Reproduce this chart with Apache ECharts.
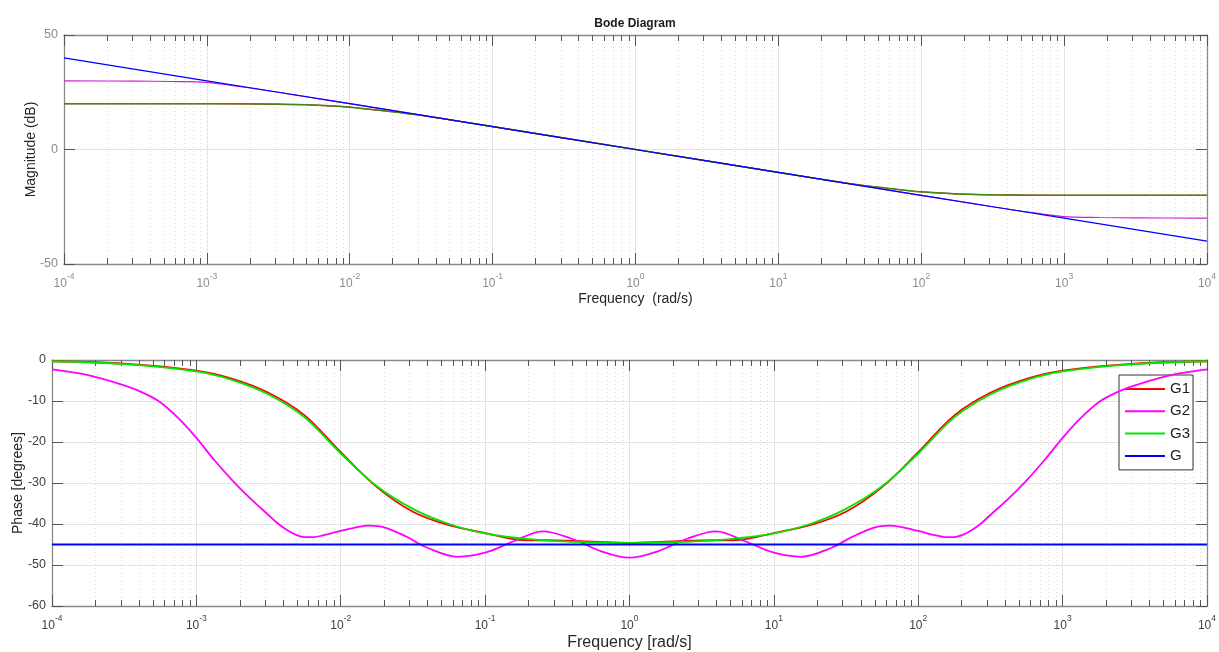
<!DOCTYPE html>
<html>
<head>
<meta charset="utf-8">
<script src="https://cdn.jsdelivr.net/npm/echarts@6/dist/echarts.min.js"></script>
<style>
html,body{margin:0;padding:0;background:#fff;}
#c{width:1219px;height:652px;}
</style>
</head>
<body>
<div id="c"></div>
<script>
// ---------- tick values ----------
const majorTicks = [1e-4, 1e-3, 1e-2, 1e-1, 1, 10, 100, 1000, 10000];
const minorTicks = [
  2e-4,3e-4,4e-4,5e-4,6e-4,7e-4,8e-4,9e-4,
  2e-3,3e-3,4e-3,5e-3,6e-3,7e-3,8e-3,9e-3,
  2e-2,3e-2,4e-2,5e-2,6e-2,7e-2,8e-2,9e-2,
  0.2,0.3,0.4,0.5,0.6,0.7,0.8,0.9,
  2,3,4,5,6,7,8,9,
  20,30,40,50,60,70,80,90,
  200,300,400,500,600,700,800,900,
  2000,3000,4000,5000,6000,7000,8000,9000
];
const seriesNames = ['G1', 'G2', 'G3', 'G'];

// ---------- magnitude data (dB) ----------
const wMagG = [1e-4, 1e-3, 1e-2, 1e-1, 1, 10, 100, 1000, 10000];
const magG = [40, 30, 20, 10, 0, -10, -20, -30, -40];

const wMagG13 = [1e-4, 1e-3, 3.16e-3, 5.62e-3, 1e-2, 1.78e-2, 3.16e-2, 5.62e-2, 0.1, 1, 10, 17.8, 31.6, 56.2, 100, 178, 316, 1000, 10000];
const magG1 = [20, 20, 19.8, 19.4, 18.5, 16.8, 14.9, 12.5, 10, 0, -10, -12.5, -14.9, -16.8, -18.5, -19.4, -19.8, -20, -20];
const magG3 = [20, 20, 19.8, 19.4, 18.5, 16.8, 14.9, 12.5, 10, 0, -10, -12.5, -14.9, -16.8, -18.5, -19.4, -19.8, -20, -20];

const wMagG2 = [1e-4, 3.16e-4, 5.62e-4, 1e-3, 1.78e-3, 3.16e-3, 5.62e-3, 1e-2, 1, 100, 178, 316, 562, 1000, 1778, 3162, 10000];
const magG2 = [30, 29.85, 29.7, 29.3, 27.3, 25.0, 22.5, 20.0, 0, -20, -22.5, -25.0, -27.3, -29.3, -29.7, -29.85, -30];

// ---------- phase data (degrees) ----------
const wPhG13 = [1e-4, 3.16e-4, 1e-3, 1.78e-3, 3.16e-3, 5.62e-3, 1e-2, 1.78e-2, 3.16e-2, 5.62e-2, 0.1, 0.178, 0.316, 0.562, 1, 1.78, 3.16, 5.62, 10, 17.8, 31.6, 56.2, 100, 178, 316, 562, 1000, 3162, 10000];
const phG1 = [-0.3, -0.9, -2.6, -4.6, -8.0, -13.5, -22.5, -31.0, -37.0, -40.3, -42.2, -43.9, -44.0, -44.3, -44.6, -44.3, -44.0, -43.9, -42.2, -40.3, -37.0, -31.0, -22.5, -13.5, -8.0, -4.6, -2.6, -0.9, -0.3];
const phG3 = [-0.3, -1.0, -2.8, -4.9, -8.4, -14.0, -22.8, -30.8, -36.3, -40.0, -42.3, -43.5, -44.2, -44.5, -44.6, -44.5, -44.2, -43.5, -42.3, -40.0, -36.3, -30.8, -22.8, -14.0, -8.4, -4.9, -2.8, -1.0, -0.3];

const wPhG2 = [1e-4, 1.78e-4, 3.16e-4, 4.22e-4, 5.62e-4, 7.5e-4, 1e-3, 1.33e-3, 1.78e-3, 2.37e-3, 3.16e-3, 3.65e-3, 4.22e-3, 4.87e-3, 5.62e-3, 6.49e-3, 7.5e-3, 1e-2, 1.33e-2, 1.58e-2, 2.0e-2, 2.82e-2, 3.98e-2, 6.46e-2, 0.1, 0.158, 0.251, 0.398, 0.631, 1, 1.585, 2.51, 3.98, 6.31, 10, 15.5, 25.1, 35.5, 50.1, 63.1, 75.0, 100, 133, 154, 178, 205, 237, 274, 316, 422, 562, 750, 1000, 1333, 1778, 2370, 3162, 5623, 10000];
const phG2 = [-2.3, -3.7, -6.2, -7.9, -10.3, -14.2, -19.0, -24.4, -29.4, -33.8, -37.8, -39.8, -41.4, -42.6, -43.2, -43.2, -42.8, -41.7, -40.7, -40.4, -40.8, -43.0, -45.8, -48.0, -47.0, -44.2, -41.8, -43.6, -46.6, -48.2, -46.6, -43.6, -41.8, -44.2, -47.0, -48.0, -45.8, -43.0, -40.8, -40.4, -40.7, -41.7, -42.8, -43.2, -43.2, -42.6, -41.4, -39.8, -37.8, -33.8, -29.4, -24.4, -19.0, -14.2, -10.3, -7.9, -6.2, -3.7, -2.3];

const wPhG = [1e-4, 1e-2, 1, 100, 10000];
const phG = [-45, -45, -45, -45, -45];

// ---------- helpers ----------
function zip(xs, ys) { return xs.map((x, i) => [x, ys[i]]); }
const FONT = 'Liberation Sans, Arial, Helvetica, sans-serif';

function supLabel(v) {
  const e = Math.round(Math.log10(v));
  return '{b|10}{s|' + e + '}';
}

function xAxes(gridIndex, labelColor, nameText, nameGap, nameSize) {
  const common = { type: 'log', logBase: 10, min: 1e-4, max: 1e4, gridIndex: gridIndex };
  return [
    Object.assign({}, common, {
      position: 'bottom',
      name: nameText, nameLocation: 'middle', nameGap: nameGap, nameMoveOverlap: false,
      nameTextStyle: { fontFamily: FONT, fontSize: nameSize, color: '#262626' },
      axisLine: { show: true, onZero: false, lineStyle: { color: '#8a8a8a', width: 1.3 } },
      axisTick: { show: true, inside: true, length: 11, customValues: majorTicks, lineStyle: { color: '#555', width: 1 } },
      axisLabel: {
        show: true, customValues: majorTicks, margin: 8, formatter: supLabel,
        rich: {
          b: { fontFamily: FONT, fontSize: 12, color: labelColor, lineHeight: 18, verticalAlign: 'bottom' },
          s: { fontFamily: FONT, fontSize: 8.5, color: labelColor, lineHeight: 18, verticalAlign: 'top' }
        }
      },
      splitLine: { show: true, lineStyle: { color: '#e3e3e3', width: 1, type: 'solid' } }
    }),
    Object.assign({}, common, {
      position: 'bottom',
      axisLine: { show: false, onZero: false },
      axisTick: { show: true, inside: true, length: 6, customValues: minorTicks, lineStyle: { color: '#555', width: 1 } },
      axisLabel: { show: false },
      splitLine: { show: true, lineStyle: { color: '#dadada', width: 1, type: [1, 3] } }
    }),
    Object.assign({}, common, {
      position: 'top',
      axisLine: { show: true, onZero: false, lineStyle: { color: '#8a8a8a', width: 1.3 } },
      axisTick: { show: true, inside: true, length: 11, customValues: majorTicks, lineStyle: { color: '#555', width: 1 } },
      axisLabel: { show: false },
      splitLine: { show: false }
    }),
    Object.assign({}, common, {
      position: 'top',
      axisLine: { show: false, onZero: false },
      axisTick: { show: true, inside: true, length: 6, customValues: minorTicks, lineStyle: { color: '#555', width: 1 } },
      axisLabel: { show: false },
      splitLine: { show: false }
    })
  ];
}

function yAxes(gridIndex, min, max, interval, labelColor, nameText, nameGap) {
  const common = { type: 'value', min: min, max: max, interval: interval, gridIndex: gridIndex };
  return [
    Object.assign({}, common, {
      position: 'left',
      name: nameText, nameLocation: 'middle', nameGap: nameGap, nameRotate: 90, nameMoveOverlap: false,
      nameTextStyle: { fontFamily: FONT, fontSize: 14, color: '#262626' },
      axisLine: { show: true, onZero: false, lineStyle: { color: '#8a8a8a', width: 1.3 } },
      axisTick: { show: true, inside: true, length: 11, lineStyle: { color: '#555', width: 1 } },
      axisLabel: { show: true, margin: 6, fontFamily: FONT, fontSize: 12.5, color: labelColor },
      splitLine: { show: true, lineStyle: { color: '#e3e3e3', width: 1 } }
    }),
    Object.assign({}, common, {
      position: 'right',
      axisLine: { show: true, onZero: false, lineStyle: { color: '#8a8a8a', width: 1.3 } },
      axisTick: { show: true, inside: true, length: 11, lineStyle: { color: '#555', width: 1 } },
      axisLabel: { show: false },
      splitLine: { show: false }
    })
  ];
}

function line(name, xIdx, yIdx, data, color, width, z) {
  return {
    type: 'line', name: name, xAxisIndex: xIdx, yAxisIndex: yIdx,
    data: data, symbol: 'none', showSymbol: false, smooth: 0.35,
    lineStyle: { color: color, width: width },
    itemStyle: { color: color },
    z: z, silent: true
  };
}

const chart = echarts.init(document.getElementById('c'), null, { renderer: 'canvas' });
chart.setOption({
  animation: false,
  backgroundColor: '#ffffff',
  title: {
    text: 'Bode Diagram', left: 630, top: 13, textAlign: 'center',
    textStyle: { fontFamily: FONT, fontSize: 12, fontWeight: 'bold', color: '#1a1a1a' }
  },
  legend: {
    data: seriesNames.map(n => ({ name: n, icon: 'rect' })),
    left: 1119, top: 375, orient: 'vertical',
    itemWidth: 40, itemHeight: 2, itemGap: 7.3,
    padding: [6.5, 3, 6.5, 6],
    borderColor: '#333', borderWidth: 1, backgroundColor: '#fff',
    textStyle: { fontFamily: FONT, fontSize: 15, color: '#222' },
    selectedMode: false
  },
  grid: [
    { left: 64, top: 35, width: 1143, height: 229 },
    { left: 52, top: 360, width: 1155, height: 247 }
  ],
  xAxis: [].concat(
    xAxes(0, '#8c8c8c', 'Frequency  (rad/s)', 28, 14),
    xAxes(1, '#404040', 'Frequency [rad/s]', 29, 16)
  ),
  yAxis: [].concat(
    yAxes(0, -50, 50, 50, '#8c8c8c', 'Magnitude (dB)', 26),
    yAxes(1, -60, 0, 10, '#404040', 'Phase [degrees]', 27)
  ),
  series: [
    line('G1', 4, 2, zip(wPhG13, phG1), '#ff0000', 1.8, 10),
    line('G2', 4, 2, zip(wPhG2, phG2), '#ff00ff', 1.8, 11),
    line('G3', 4, 2, zip(wPhG13, phG3), '#00e800', 1.8, 12),
    line('G', 4, 2, zip(wPhG, phG), '#0000ff', 1.8, 13),
    line('G1', 0, 0, zip(wMagG13, magG1), '#ff0000', 1.2, 10),
    line('G2', 0, 0, zip(wMagG2, magG2), '#d020d0', 1.2, 11),
    line('G3', 0, 0, zip(wMagG13, magG3), '#3f8a14', 1.5, 12),
    line('G', 0, 0, zip(wMagG, magG), '#0000ff', 1.2, 13)
  ]
});
</script>
</body>
</html>
